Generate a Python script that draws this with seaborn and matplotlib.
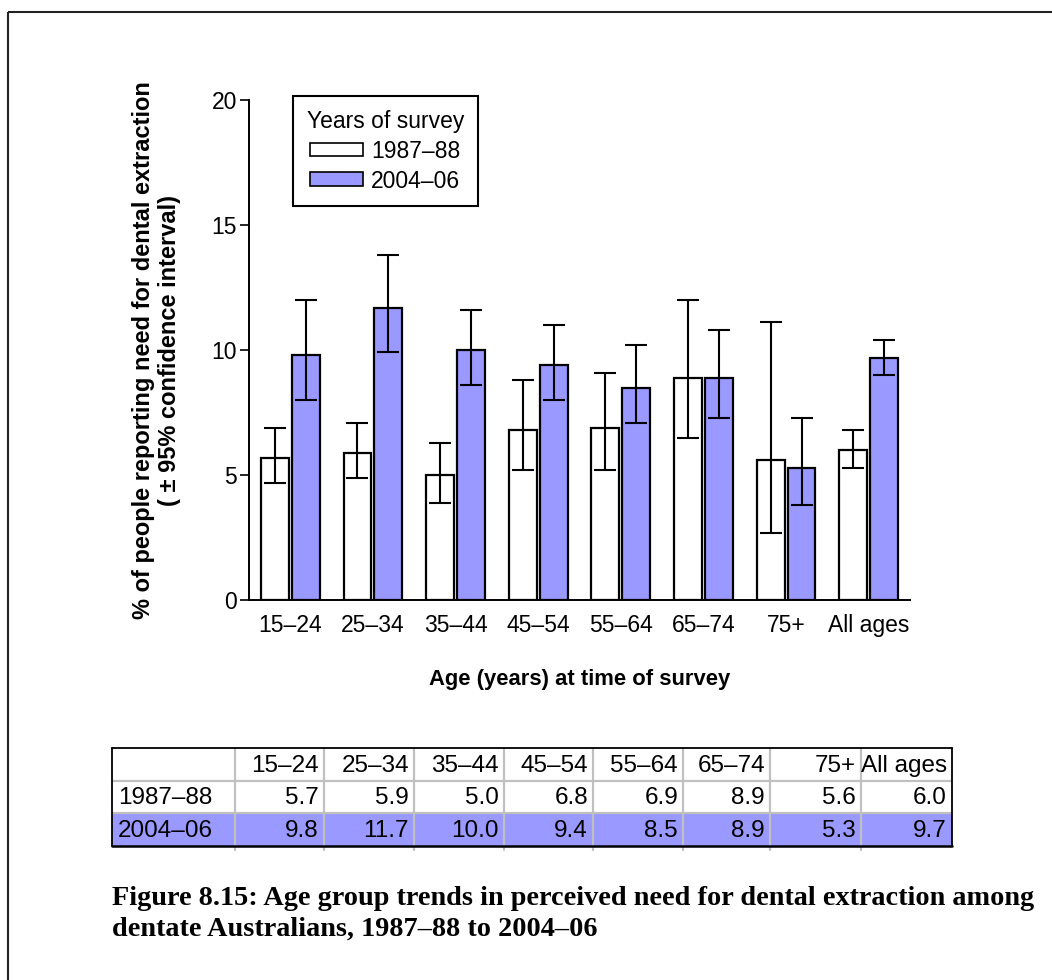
import matplotlib
matplotlib.use("Agg")
import matplotlib.pyplot as plt
from matplotlib.patches import Rectangle, Patch
import numpy as np
import pandas as pd
import seaborn as sns

# ---- data -------------------------------------------------------------
age_groups = ["15–24", "25–34", "35–44", "45–54", "55–64", "65–74", "75+", "All ages"]
surveys = ["1987–88", "2004–06"]

pct_1987_88 = [5.7, 5.9, 5.0, 6.8, 6.9, 8.9, 5.6, 6.0]
pct_2004_06 = [9.8, 11.7, 10.0, 9.4, 8.5, 8.9, 5.3, 9.7]

ci_low_1987_88 = [4.7, 4.9, 3.9, 5.2, 5.2, 6.5, 2.7, 5.3]
ci_high_1987_88 = [6.9, 7.1, 6.3, 8.8, 9.1, 12.0, 11.1, 6.8]
ci_low_2004_06 = [8.0, 9.9, 8.6, 8.0, 7.1, 7.3, 3.8, 9.0]
ci_high_2004_06 = [12.0, 13.8, 11.6, 11.0, 10.2, 10.8, 7.3, 10.4]

y_ticks = [0, 5, 10, 15, 20]

x_label = "Age (years) at time of survey"
y_label = "% of people reporting need for dental extraction\n( ± 95% confidence interval)"
legend_title = "Years of survey"
caption = ("Figure 8.15: Age group trends in perceived need for dental extraction among\n"
           "dentate Australians, 1987–88 to 2004–06")

# ---- style ------------------------------------------------------------
WHITE = "#FFFFFF"
BLUE = "#9999FF"
GRID_GREY = "#C0C0C0"

sns.set_style("ticks", rc={"text.color": "black", "axes.labelcolor": "black",
                           "xtick.color": "black", "ytick.color": "black",
                           "axes.edgecolor": "black"})
plt.rcParams["font.family"] = ["Liberation Sans", "DejaVu Sans"]

W, H = 1052, 980
fig = plt.figure(figsize=(W / 100, H / 100), dpi=100)


def px_box(x0, y0, x1, y1):
    """Pixel box (origin top-left) -> figure-fraction rect."""
    return [x0 / W, 1 - y1 / H, (x1 - x0) / W, (y1 - y0) / H]


# overlay in pixel coordinates for frame, table and caption
over = fig.add_axes([0, 0, 1, 1])
over.set_xlim(0, W)
over.set_ylim(H, 0)
over.set_axis_off()

ax = fig.add_axes(px_box(249, 100, 910, 600))

# ---- bars -------------------------------------------------------------
df = pd.DataFrame({
    "age": age_groups * 2,
    "survey": [surveys[0]] * len(age_groups) + [surveys[1]] * len(age_groups),
    "pct": pct_1987_88 + pct_2004_06,
})
sns.barplot(data=df, x="age", y="pct", hue="survey", order=age_groups,
            hue_order=surveys, palette=[WHITE, BLUE], saturation=1,
            edgecolor="black", linewidth=1.6, width=0.75, gap=0.1,
            errorbar=None, legend=False, ax=ax)

# confidence intervals
ci = {surveys[0]: (pct_1987_88, ci_low_1987_88, ci_high_1987_88),
      surveys[1]: (pct_2004_06, ci_low_2004_06, ci_high_2004_06)}
for container, s in zip(ax.containers, surveys):
    vals, lo, hi = (np.asarray(a) for a in ci[s])
    xs = [p.get_x() + p.get_width() / 2 for p in container]
    ax.errorbar(xs, vals, yerr=[vals - lo, hi - vals], fmt="none",
                ecolor="black", elinewidth=1.5, capsize=8, capthick=1.5,
                zorder=4)

# ---- axes -------------------------------------------------------------
ax.set_xlim(-0.5, len(age_groups) - 0.5)
ax.set_ylim(y_ticks[0], y_ticks[-1])
ax.set_yticks(y_ticks)
ax.tick_params(axis="y", length=6.5, width=1.2, pad=2, labelsize=16.5)
ax.tick_params(axis="x", length=0, pad=10, labelsize=16.5)
sns.despine(ax=ax)
for side in ("left", "bottom"):
    ax.spines[side].set_linewidth(1.4)

ax.set_xlabel(x_label, fontsize=15.8, fontweight="bold")
ax.xaxis.set_label_coords(0.5, -0.138)
ax.set_ylabel(y_label, fontsize=17, fontweight="bold", linespacing=1.15)
ax.yaxis.set_label_coords(-0.103, 0.5)

handles = [Patch(facecolor=c, edgecolor="black", linewidth=1.2) for c in (WHITE, BLUE)]
leg = ax.legend(handles, surveys, title=legend_title, loc="upper left",
                bbox_to_anchor=(0.0666, 1.008), frameon=True, fancybox=False,
                edgecolor="black", framealpha=1, fontsize=16.5,
                title_fontsize=16.5, handlelength=2.3, handleheight=0.55,
                handletextpad=0.35, borderpad=0.6, labelspacing=0.3,
                borderaxespad=0)
leg.get_frame().set_linewidth(1.5)

# ---- frame ------------------------------------------------------------
over.plot([8, 8], [12, H], color="#222222", lw=1.5, solid_capstyle="butt")
over.plot([8, W], [12, 12], color="#222222", lw=1.5, solid_capstyle="butt")

# ---- data table -------------------------------------------------------
col_edges = [112, 235, 324, 414, 504, 593, 683, 770, 861, 952]
row_edges = [748, 781, 813, 846]
left, right = col_edges[0], col_edges[-1]
top, bottom = row_edges[0], row_edges[-1]

over.add_patch(Rectangle((left, row_edges[2]), right - left,
                         row_edges[3] - row_edges[2], facecolor=BLUE,
                         edgecolor="none", zorder=1))
for xe in col_edges[1:-1]:
    over.plot([xe, xe], [top, bottom + 4], color=GRID_GREY, lw=1.6, zorder=2)
for ye in row_edges[1:-1]:
    over.plot([left, right], [ye, ye], color=GRID_GREY, lw=1.6, zorder=2)
over.plot([left, right], [top, top], color="black", lw=1.3, zorder=3)
over.plot([left, right], [bottom, bottom], color="black", lw=1.8, zorder=3)
over.plot([left, left], [top, bottom], color="black", lw=1.3, zorder=3)
over.plot([right, right], [top, bottom], color="black", lw=1.3, zorder=3)

tfs = 17.5
row_mid = [(row_edges[i] + row_edges[i + 1]) / 2 + 1 for i in range(3)]
for j, lab in enumerate(age_groups):
    over.text(col_edges[j + 2] - 5, row_mid[0], lab, ha="right",
              va="center", fontsize=tfs, zorder=4)
for i, (s, vals) in enumerate(zip(surveys, [pct_1987_88, pct_2004_06])):
    over.text(left + 6, row_mid[i + 1], s, ha="left", va="center",
              fontsize=tfs, zorder=4)
    for j, v in enumerate(vals):
        over.text(col_edges[j + 2] - 5, row_mid[i + 1], f"{v:.1f}",
                  ha="right", va="center", fontsize=tfs, zorder=4)

# ---- caption ----------------------------------------------------------
over.text(112, 886, caption, ha="left", va="top", fontsize=20.3,
          fontweight="bold", family=["Liberation Serif", "DejaVu Serif"],
          linespacing=1.3)

fig.savefig("out.png", dpi=100)
